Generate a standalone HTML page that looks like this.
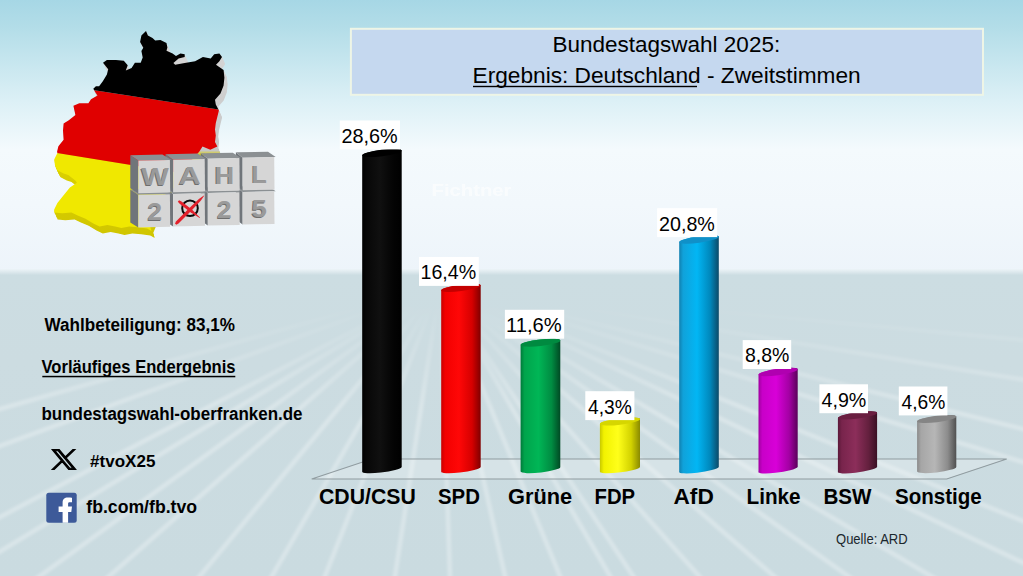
<!DOCTYPE html>
<html><head><meta charset="utf-8">
<style>
html,body{margin:0;padding:0;width:1023px;height:576px;overflow:hidden;background:#dfe9ee;}
svg{display:block;position:absolute;left:0;top:0;}
text{font-family:"Liberation Sans",sans-serif;}
</style></head>
<body>
<svg width="1023" height="576" viewBox="0 0 1023 576">
<defs>
  <linearGradient id="sky" x1="0" y1="0" x2="0" y2="272" gradientUnits="userSpaceOnUse">
    <stop offset="0" stop-color="#a6d7e5"/>
    <stop offset="0.1" stop-color="#b3dde8"/>
    <stop offset="0.37" stop-color="#dcf0f6"/>
    <stop offset="0.55" stop-color="#f4fafd"/>
    <stop offset="0.75" stop-color="#f2f8fc"/>
    <stop offset="1" stop-color="#edf4fa"/>
  </linearGradient>
  <linearGradient id="floor" x1="0" y1="269" x2="0" y2="576" gradientUnits="userSpaceOnUse">
    <stop offset="0" stop-color="#edf4f8"/>
    <stop offset="0.02" stop-color="#ccdde2"/>
    <stop offset="0.3" stop-color="#ccdce1"/>
    <stop offset="1" stop-color="#cadbe0"/>
  </linearGradient>
  <linearGradient id="streakfade" x1="0" y1="272" x2="0" y2="576" gradientUnits="userSpaceOnUse">
    <stop offset="0" stop-color="#000"/>
    <stop offset="0.1" stop-color="#000"/>
    <stop offset="0.45" stop-color="#fff"/>
    <stop offset="1" stop-color="#fff"/>
  </linearGradient>
  <filter id="sblur" x="-10%" y="-10%" width="120%" height="120%"><feGaussianBlur stdDeviation="1.7"/></filter>
  <mask id="streakmask"><rect x="0" y="272" width="1023" height="304" fill="url(#streakfade)"/></mask>
  <clipPath id="floorclip"><rect x="0" y="272" width="1023" height="304"/></clipPath>
<linearGradient id="bg0" x1="362.2" y1="0" x2="401.7" y2="0" gradientUnits="userSpaceOnUse"><stop offset="0" stop-color="#000000"/><stop offset="0.1" stop-color="#070707"/><stop offset="0.45" stop-color="#101010"/><stop offset="0.78" stop-color="#040404"/><stop offset="1" stop-color="#000000"/></linearGradient>
<linearGradient id="bg1" x1="441.2" y1="0" x2="480.7" y2="0" gradientUnits="userSpaceOnUse"><stop offset="0" stop-color="#c80000"/><stop offset="0.1" stop-color="#f20000"/><stop offset="0.45" stop-color="#ff0707"/><stop offset="0.78" stop-color="#d60000"/><stop offset="1" stop-color="#800000"/></linearGradient>
<linearGradient id="bg2" x1="520.6" y1="0" x2="560.3" y2="0" gradientUnits="userSpaceOnUse"><stop offset="0" stop-color="#007a3a"/><stop offset="0.1" stop-color="#00a44c"/><stop offset="0.45" stop-color="#00b656"/><stop offset="0.78" stop-color="#008c42"/><stop offset="1" stop-color="#004a24"/></linearGradient>
<linearGradient id="bg3" x1="599.9" y1="0" x2="640.0" y2="0" gradientUnits="userSpaceOnUse"><stop offset="0" stop-color="#c8c800"/><stop offset="0.1" stop-color="#f2f200"/><stop offset="0.45" stop-color="#ffff1a"/><stop offset="0.78" stop-color="#d2d200"/><stop offset="1" stop-color="#8a8a00"/></linearGradient>
<linearGradient id="bg4" x1="679.2" y1="0" x2="718.8" y2="0" gradientUnits="userSpaceOnUse"><stop offset="0" stop-color="#1080b0"/><stop offset="0.1" stop-color="#10a2da"/><stop offset="0.45" stop-color="#02b6f4"/><stop offset="0.78" stop-color="#0088bc"/><stop offset="1" stop-color="#0c4a68"/></linearGradient>
<linearGradient id="bg5" x1="758.5" y1="0" x2="797.7" y2="0" gradientUnits="userSpaceOnUse"><stop offset="0" stop-color="#a000a0"/><stop offset="0.1" stop-color="#c800c8"/><stop offset="0.45" stop-color="#d800d8"/><stop offset="0.78" stop-color="#a400a4"/><stop offset="1" stop-color="#5a005a"/></linearGradient>
<linearGradient id="bg6" x1="837.9" y1="0" x2="877.1" y2="0" gradientUnits="userSpaceOnUse"><stop offset="0" stop-color="#5a1838"/><stop offset="0.1" stop-color="#78244c"/><stop offset="0.45" stop-color="#8c2e5a"/><stop offset="0.78" stop-color="#64203e"/><stop offset="1" stop-color="#3a1024"/></linearGradient>
<linearGradient id="bg7" x1="917.1" y1="0" x2="956.3" y2="0" gradientUnits="userSpaceOnUse"><stop offset="0" stop-color="#8a8a8a"/><stop offset="0.1" stop-color="#a6a6a6"/><stop offset="0.45" stop-color="#b6b6b6"/><stop offset="0.78" stop-color="#8c8c8c"/><stop offset="1" stop-color="#505050"/></linearGradient>

</defs>
<rect x="0" y="0" width="1023" height="272" fill="url(#sky)"/>
<rect x="0" y="269" width="1023" height="307" fill="url(#floor)"/>
<g mask="url(#streakmask)">
<g stroke="#ffffff" stroke-opacity="0.3" stroke-width="4.5" filter="url(#sblur)"><line x1="440" y1="285" x2="-748.7" y2="620"/>
<line x1="440" y1="285" x2="-475.5" y2="620"/>
<line x1="440" y1="285" x2="-195.3" y2="620"/>
<line x1="440" y1="285" x2="-113.3" y2="620"/>
<line x1="440" y1="285" x2="-20.5" y2="620"/>
<line x1="440" y1="285" x2="59.5" y2="620"/>
<line x1="440" y1="285" x2="163.7" y2="620"/>
<line x1="440" y1="285" x2="246.6" y2="620"/>
<line x1="440" y1="285" x2="307.6" y2="620"/>
<line x1="440" y1="285" x2="388.2" y2="620"/>
<line x1="440" y1="285" x2="451.5" y2="620"/>
<line x1="440" y1="285" x2="514.8" y2="620"/>
<line x1="440" y1="285" x2="578.1" y2="620"/>
<line x1="440" y1="285" x2="635.7" y2="620"/>
<line x1="440" y1="285" x2="662.2" y2="620"/>
<line x1="440" y1="285" x2="738.2" y2="620"/>
<line x1="440" y1="285" x2="824.2" y2="620"/>
<line x1="440" y1="285" x2="909.7" y2="620"/>
<line x1="440" y1="285" x2="1005.0" y2="620"/>
<line x1="440" y1="285" x2="1143.3" y2="620"/>
<line x1="440" y1="285" x2="1267.6" y2="620"/>
<line x1="440" y1="285" x2="1543.4" y2="620"/>
<line x1="440" y1="285" x2="1796.3" y2="620"/>
<line x1="440" y1="285" x2="2506.7" y2="620"/>
<line x1="440" y1="285" x2="3991.0" y2="620"/>
</g>
</g>
<clipPath id="gerclip"><polygon points="146.0,30.9 147.9,35.4 152.5,38.0 155.2,40.4 160.4,40.0 166.5,43.0 167.4,47.4 166.5,50.8 172.6,53.4 176.0,56.0 180.4,53.4 184.7,54.3 184.7,56.9 178.6,58.6 173.4,63.0 175.2,64.7 184.7,63.0 195.1,61.2 202.9,56.9 210.7,58.6 214.2,54.3 219.4,53.4 222.0,56.9 219.4,61.2 216.0,64.7 218.5,66.4 223.6,70.0 224.4,77.8 223.6,85.6 220.5,93.4 215.0,99.7 215.8,104.4 218.9,110.6 217.3,116.9 215.8,123.1 215.0,129.4 215.8,135.6 215.0,141.9 217.3,146.6 210.3,149.7 202.5,146.6 199.4,151.5 165.0,190.0 150.0,226.0 151.5,231.0 147.1,228.6 138.0,227.2 129.2,226.6 121.4,228.1 115.2,226.6 107.4,225.0 99.6,226.6 93.3,223.4 85.5,218.8 77.7,215.6 71.4,212.5 62.1,213.3 54.2,212.5 54.2,209.4 57.4,203.1 63.6,195.3 69.9,187.5 76.9,182.8 75.3,180.5 68.3,175.0 63.6,173.4 57.4,170.3 55.0,165.6 54.2,159.4 57.4,153.1 57.1,151.4 58.4,146.2 63.6,139.7 63.0,130.6 63.6,123.4 68.8,120.2 75.4,115.0 73.4,105.8 79.3,103.2 88.4,103.2 91.0,99.3 97.5,95.4 95.6,92.8 93.3,88.8 95.9,86.2 99.1,86.2 103.0,81.0 106.9,74.4 108.2,69.2 103.0,62.7 106.9,60.1 116.0,60.1 123.8,60.8 127.7,65.3 125.8,70.5 131.6,67.9 134.9,62.7 140.7,62.7 142.7,57.5 141.4,51.0 143.3,47.8 140.1,41.9 141.4,35.4"/></clipPath>
<linearGradient id="extr" x1="0" y1="20" x2="0" y2="245" gradientUnits="userSpaceOnUse"><stop offset="0" stop-color="#dadada"/><stop offset="0.58" stop-color="#c6c6c6"/><stop offset="0.6" stop-color="#dcd200"/><stop offset="1" stop-color="#cfc400"/></linearGradient>
<g fill="url(#extr)">
<polygon points="146.4,31.8 148.3,36.3 152.9,38.9 155.6,41.3 160.8,40.9 166.9,43.9 167.8,48.3 166.9,51.7 173.0,54.3 176.4,56.9 180.8,54.3 185.1,55.2 185.1,57.8 179.0,59.5 173.8,63.9 175.6,65.6 185.1,63.9 195.5,62.1 203.3,57.8 211.1,59.5 214.6,55.2 219.8,54.3 222.4,57.8 219.8,62.1 216.4,65.6 218.9,67.3 224.0,70.9 224.8,78.7 224.0,86.5 220.9,94.3 215.4,100.6 216.2,105.3 219.3,111.5 217.7,117.8 216.2,124.0 215.4,130.3 216.2,136.5 215.4,142.8 217.7,147.5 210.7,150.6 202.9,147.5 199.8,152.4 165.4,190.9 150.4,226.9 151.9,231.9 147.5,229.5 138.4,228.1 129.7,227.5 121.8,229.0 115.6,227.5 107.8,225.9 100.0,227.5 93.7,224.3 85.9,219.6 78.1,216.5 71.8,213.4 62.5,214.2 54.6,213.4 54.6,210.3 57.8,204.0 64.0,196.2 70.3,188.4 77.3,183.7 75.7,181.4 68.7,175.9 64.0,174.3 57.8,171.2 55.4,166.5 54.6,160.3 57.8,154.0 57.5,152.3 58.8,147.1 64.0,140.6 63.4,131.5 64.0,124.3 69.2,121.1 75.8,115.9 73.8,106.7 79.7,104.1 88.8,104.1 91.4,100.2 97.9,96.3 96.0,93.7 93.7,89.6 96.3,87.1 99.5,87.1 103.4,81.9 107.3,75.3 108.6,70.1 103.4,63.6 107.3,61.0 116.4,61.0 124.2,61.7 128.1,66.2 126.2,71.4 132.0,68.8 135.3,63.6 141.1,63.6 143.1,58.4 141.8,51.9 143.7,48.7 140.5,42.8 141.8,36.3"/>
<polygon points="146.8,32.6 148.7,37.1 153.3,39.8 156.0,42.1 161.2,41.8 167.3,44.8 168.2,49.1 167.3,52.5 173.4,55.1 176.8,57.8 181.2,55.1 185.5,56.0 185.5,58.6 179.4,60.4 174.2,64.8 176.0,66.5 185.5,64.8 195.9,63.0 203.7,58.6 211.5,60.4 215.0,56.0 220.2,55.1 222.8,58.6 220.2,63.0 216.8,66.5 219.3,68.2 224.4,71.8 225.2,79.5 224.4,87.3 221.3,95.2 215.8,101.5 216.6,106.2 219.7,112.3 218.1,118.7 216.6,124.8 215.8,131.2 216.6,137.3 215.8,143.7 218.1,148.3 211.1,151.4 203.3,148.3 200.2,153.2 165.8,191.8 150.8,227.8 152.3,232.8 147.9,230.3 138.8,228.9 130.1,228.3 122.2,229.8 116.0,228.3 108.2,226.8 100.4,228.3 94.1,225.2 86.3,220.5 78.5,217.3 72.2,214.2 62.9,215.1 55.0,214.2 55.0,211.2 58.2,204.8 64.4,197.1 70.7,189.2 77.7,184.6 76.1,182.2 69.1,176.8 64.4,175.2 58.2,172.1 55.8,167.3 55.0,161.2 58.2,154.8 57.9,153.2 59.2,147.9 64.4,141.4 63.8,132.3 64.4,125.2 69.6,122.0 76.2,116.8 74.2,107.5 80.1,105.0 89.2,105.0 91.8,101.0 98.3,97.2 96.4,94.5 94.1,90.5 96.7,88.0 99.9,88.0 103.8,82.8 107.7,76.2 109.0,71.0 103.8,64.5 107.7,61.9 116.8,61.9 124.6,62.5 128.5,67.0 126.6,72.2 132.4,69.7 135.7,64.5 141.5,64.5 143.5,59.2 142.2,52.8 144.1,49.5 140.9,43.6 142.2,37.1"/>
<polygon points="147.2,33.5 149.1,38.0 153.7,40.6 156.4,43.0 161.6,42.6 167.7,45.6 168.6,50.0 167.7,53.4 173.8,56.0 177.2,58.6 181.6,56.0 185.9,56.9 185.9,59.5 179.8,61.2 174.6,65.6 176.4,67.3 185.9,65.6 196.3,63.8 204.1,59.5 211.9,61.2 215.4,56.9 220.6,56.0 223.2,59.5 220.6,63.8 217.2,67.3 219.7,69.0 224.8,72.6 225.6,80.4 224.8,88.2 221.7,96.0 216.2,102.3 217.0,107.0 220.1,113.2 218.5,119.5 217.0,125.7 216.2,132.0 217.0,138.2 216.2,144.5 218.5,149.2 211.5,152.3 203.7,149.2 200.6,154.1 166.2,192.6 151.2,228.6 152.7,233.6 148.3,231.2 139.2,229.8 130.4,229.2 122.6,230.7 116.4,229.2 108.6,227.6 100.8,229.2 94.5,226.0 86.7,221.4 78.9,218.2 72.6,215.1 63.3,215.9 55.5,215.1 55.5,212.0 58.6,205.7 64.8,197.9 71.1,190.1 78.1,185.4 76.5,183.1 69.5,177.6 64.8,176.0 58.6,172.9 56.2,168.2 55.5,162.0 58.6,155.7 58.3,154.0 59.6,148.8 64.8,142.3 64.2,133.2 64.8,126.0 70.0,122.8 76.6,117.6 74.6,108.4 80.5,105.8 89.6,105.8 92.2,101.9 98.7,98.0 96.8,95.4 94.5,91.4 97.1,88.8 100.3,88.8 104.2,83.6 108.1,77.0 109.4,71.8 104.2,65.3 108.1,62.7 117.2,62.7 125.0,63.4 128.9,67.9 127.0,73.1 132.8,70.5 136.1,65.3 141.9,65.3 143.9,60.1 142.6,53.6 144.5,50.4 141.3,44.5 142.6,38.0"/>
<polygon points="147.6,34.4 149.5,38.9 154.1,41.5 156.8,43.9 162.0,43.5 168.1,46.5 169.0,50.9 168.1,54.3 174.2,56.9 177.6,59.5 182.0,56.9 186.3,57.8 186.3,60.4 180.2,62.1 175.0,66.5 176.8,68.2 186.3,66.5 196.7,64.7 204.5,60.4 212.3,62.1 215.8,57.8 221.0,56.9 223.6,60.4 221.0,64.7 217.6,68.2 220.1,69.9 225.2,73.5 226.0,81.3 225.2,89.1 222.1,96.9 216.6,103.2 217.4,107.9 220.5,114.1 218.9,120.4 217.4,126.6 216.6,132.9 217.4,139.1 216.6,145.4 218.9,150.1 211.9,153.2 204.1,150.1 201.0,155.0 166.6,193.5 151.6,229.5 153.1,234.5 148.7,232.1 139.6,230.7 130.8,230.1 123.0,231.6 116.8,230.1 109.0,228.5 101.2,230.1 94.9,226.9 87.1,222.2 79.3,219.1 73.0,216.0 63.7,216.8 55.9,216.0 55.9,212.9 59.0,206.6 65.2,198.8 71.5,191.0 78.5,186.3 76.9,184.0 69.9,178.5 65.2,176.9 59.0,173.8 56.6,169.1 55.9,162.9 59.0,156.6 58.7,154.9 60.0,149.7 65.2,143.2 64.6,134.1 65.2,126.9 70.4,123.7 77.0,118.5 75.0,109.3 80.9,106.7 90.0,106.7 92.6,102.8 99.1,98.9 97.2,96.3 94.9,92.2 97.5,89.7 100.7,89.7 104.6,84.5 108.5,77.9 109.8,72.7 104.6,66.2 108.5,63.6 117.6,63.6 125.4,64.3 129.3,68.8 127.4,74.0 133.2,71.4 136.5,66.2 142.3,66.2 144.3,61.0 143.0,54.5 144.9,51.3 141.7,45.4 143.0,38.9"/>
<polygon points="148.0,35.3 149.9,39.8 154.5,42.4 157.2,44.8 162.4,44.4 168.5,47.4 169.4,51.8 168.5,55.2 174.6,57.8 178.0,60.4 182.4,57.8 186.7,58.7 186.7,61.3 180.6,63.0 175.4,67.4 177.2,69.1 186.7,67.4 197.1,65.6 204.9,61.3 212.7,63.0 216.2,58.7 221.4,57.8 224.0,61.3 221.4,65.6 218.0,69.1 220.5,70.8 225.6,74.4 226.4,82.2 225.6,90.0 222.5,97.8 217.0,104.1 217.8,108.8 220.9,115.0 219.3,121.3 217.8,127.5 217.0,133.8 217.8,140.0 217.0,146.3 219.3,151.0 212.3,154.1 204.5,151.0 201.4,155.9 167.0,194.4 152.0,230.4 153.5,235.4 149.1,233.0 140.0,231.6 131.2,231.0 123.4,232.5 117.2,231.0 109.4,229.4 101.6,231.0 95.3,227.8 87.5,223.1 79.7,220.0 73.4,216.9 64.1,217.7 56.2,216.9 56.2,213.8 59.4,207.5 65.6,199.7 71.9,191.9 78.9,187.2 77.3,184.9 70.3,179.4 65.6,177.8 59.4,174.7 57.0,170.0 56.2,163.8 59.4,157.5 59.1,155.8 60.4,150.6 65.6,144.1 65.0,135.0 65.6,127.8 70.8,124.6 77.4,119.4 75.4,110.2 81.3,107.6 90.4,107.6 93.0,103.7 99.5,99.8 97.6,97.2 95.3,93.1 97.9,90.6 101.1,90.6 105.0,85.4 108.9,78.8 110.2,73.6 105.0,67.1 108.9,64.5 118.0,64.5 125.8,65.2 129.7,69.7 127.8,74.9 133.6,72.3 136.9,67.1 142.7,67.1 144.7,61.9 143.4,55.4 145.3,52.2 142.1,46.3 143.4,39.8"/>
<polygon points="148.4,36.1 150.3,40.6 154.9,43.2 157.6,45.6 162.8,45.2 168.9,48.2 169.8,52.6 168.9,56.0 175.0,58.6 178.4,61.2 182.8,58.6 187.1,59.5 187.1,62.1 181.0,63.9 175.8,68.2 177.6,70.0 187.1,68.2 197.5,66.5 205.3,62.1 213.1,63.9 216.6,59.5 221.8,58.6 224.4,62.1 221.8,66.5 218.4,70.0 220.9,71.7 226.0,75.2 226.8,83.0 226.0,90.8 222.9,98.7 217.4,105.0 218.2,109.7 221.3,115.8 219.7,122.2 218.2,128.3 217.4,134.7 218.2,140.8 217.4,147.2 219.7,151.8 212.7,154.9 204.9,151.8 201.8,156.8 167.4,195.2 152.4,231.2 153.9,236.2 149.5,233.8 140.4,232.4 131.7,231.8 123.8,233.3 117.6,231.8 109.8,230.2 102.0,231.8 95.7,228.7 87.9,224.0 80.1,220.8 73.8,217.8 64.5,218.6 56.6,217.8 56.6,214.7 59.8,208.3 66.0,200.6 72.3,192.8 79.3,188.1 77.7,185.8 70.7,180.2 66.0,178.7 59.8,175.6 57.4,170.8 56.6,164.7 59.8,158.3 59.5,156.7 60.8,151.4 66.0,144.9 65.4,135.8 66.0,128.7 71.2,125.5 77.8,120.2 75.8,111.0 81.7,108.5 90.8,108.5 93.4,104.5 99.9,100.7 98.0,98.0 95.7,94.0 98.3,91.5 101.5,91.5 105.4,86.2 109.3,79.7 110.6,74.5 105.4,68.0 109.3,65.3 118.4,65.3 126.2,66.0 130.1,70.5 128.2,75.8 134.0,73.2 137.3,68.0 143.1,68.0 145.1,62.8 143.8,56.2 145.7,53.0 142.5,47.1 143.8,40.6"/>
<polygon points="148.8,37.0 150.7,41.5 155.3,44.1 158.0,46.5 163.2,46.1 169.3,49.1 170.2,53.5 169.3,56.9 175.4,59.5 178.8,62.1 183.2,59.5 187.5,60.4 187.5,63.0 181.4,64.7 176.2,69.1 178.0,70.8 187.5,69.1 197.9,67.3 205.7,63.0 213.5,64.7 217.0,60.4 222.2,59.5 224.8,63.0 222.2,67.3 218.8,70.8 221.3,72.5 226.4,76.1 227.2,83.9 226.4,91.7 223.3,99.5 217.8,105.8 218.6,110.5 221.7,116.7 220.1,123.0 218.6,129.2 217.8,135.5 218.6,141.7 217.8,148.0 220.1,152.7 213.1,155.8 205.3,152.7 202.2,157.6 167.8,196.1 152.8,232.1 154.3,237.1 149.9,234.7 140.8,233.3 132.1,232.7 124.2,234.2 118.0,232.7 110.2,231.1 102.4,232.7 96.1,229.5 88.3,224.9 80.5,221.7 74.2,218.6 64.9,219.4 57.0,218.6 57.0,215.5 60.2,209.2 66.4,201.4 72.7,193.6 79.7,188.9 78.1,186.6 71.1,181.1 66.4,179.5 60.2,176.4 57.8,171.7 57.0,165.5 60.2,159.2 59.9,157.5 61.2,152.3 66.4,145.8 65.8,136.7 66.4,129.5 71.6,126.3 78.2,121.1 76.2,111.9 82.1,109.3 91.2,109.3 93.8,105.4 100.3,101.5 98.4,98.9 96.1,94.9 98.7,92.3 101.9,92.3 105.8,87.1 109.7,80.5 111.0,75.3 105.8,68.8 109.7,66.2 118.8,66.2 126.6,66.9 130.5,71.4 128.6,76.6 134.4,74.0 137.7,68.8 143.5,68.8 145.5,63.6 144.2,57.1 146.1,53.9 142.9,48.0 144.2,41.5"/>
<polygon points="149.2,37.9 151.1,42.4 155.7,45.0 158.4,47.4 163.6,47.0 169.7,50.0 170.6,54.4 169.7,57.8 175.8,60.4 179.2,63.0 183.6,60.4 187.9,61.3 187.9,63.9 181.8,65.6 176.6,70.0 178.4,71.7 187.9,70.0 198.3,68.2 206.1,63.9 213.9,65.6 217.4,61.3 222.6,60.4 225.2,63.9 222.6,68.2 219.2,71.7 221.7,73.4 226.8,77.0 227.6,84.8 226.8,92.6 223.7,100.4 218.2,106.7 219.0,111.4 222.1,117.6 220.5,123.9 219.0,130.1 218.2,136.4 219.0,142.6 218.2,148.9 220.5,153.6 213.5,156.7 205.7,153.6 202.6,158.5 168.2,197.0 153.2,233.0 154.7,238.0 150.3,235.6 141.2,234.2 132.4,233.6 124.6,235.1 118.4,233.6 110.6,232.0 102.8,233.6 96.5,230.4 88.7,225.8 80.9,222.6 74.6,219.5 65.3,220.3 57.5,219.5 57.5,216.4 60.6,210.1 66.8,202.3 73.1,194.5 80.1,189.8 78.5,187.5 71.5,182.0 66.8,180.4 60.6,177.3 58.2,172.6 57.5,166.4 60.6,160.1 60.3,158.4 61.6,153.2 66.8,146.7 66.2,137.6 66.8,130.4 72.0,127.2 78.6,122.0 76.6,112.8 82.5,110.2 91.6,110.2 94.2,106.3 100.7,102.4 98.8,99.8 96.5,95.8 99.1,93.2 102.3,93.2 106.2,88.0 110.1,81.4 111.4,76.2 106.2,69.7 110.1,67.1 119.2,67.1 127.0,67.8 130.9,72.3 129.0,77.5 134.8,74.9 138.1,69.7 143.9,69.7 145.9,64.5 144.6,58.0 146.5,54.8 143.3,48.9 144.6,42.4"/>
</g>
<g clip-path="url(#gerclip)">
<polygon points="40,150.28 240,182.68 240,250 40,250" fill="#f0e800"/>
<polygon points="40,81.95 240,112.75 240,182.68 40,150.28" fill="#e00000"/>
<polygon points="40,20 240,20 240,112.75 40,81.95" fill="#000000"/>
</g>

<polygon points="235.9,186.5 242.6,191.9 242.6,224.5 235.9,219.6" fill="#70757a"/>
<polygon points="235.9,186.5 268.0,185.9 275.7,191.3 242.6,191.9" fill="#8b9093"/>
<polygon points="242.6,191.9 274.2,191.3 274.5,223.9 242.6,224.5" fill="#d6d6d6"/>
<text x="258.3" y="218.2" font-size="24.0" font-weight="bold" text-anchor="middle" fill="#6e6e6e" textLength="15.4" lengthAdjust="spacingAndGlyphs">5</text>
<text x="259.2" y="217.3" font-size="24.0" font-weight="bold" text-anchor="middle" fill="#9a9a9a" textLength="15.4" lengthAdjust="spacingAndGlyphs">5</text>
<polygon points="200.7,187.5 207.8,192.9 207.8,225.5 200.7,220.6" fill="#70757a"/>
<polygon points="200.7,187.5 232.8,186.9 240.9,192.3 207.8,192.9" fill="#8b9093"/>
<polygon points="207.8,192.9 239.4,192.3 239.7,224.9 207.8,225.5" fill="#d6d6d6"/>
<text x="223.5" y="219.2" font-size="24.0" font-weight="bold" text-anchor="middle" fill="#6e6e6e" textLength="14.6" lengthAdjust="spacingAndGlyphs">2</text>
<text x="224.4" y="218.3" font-size="24.0" font-weight="bold" text-anchor="middle" fill="#9a9a9a" textLength="14.6" lengthAdjust="spacingAndGlyphs">2</text>
<polygon points="165.5,188.5 173.1,193.9 173.1,226.5 165.5,221.6" fill="#70757a"/>
<polygon points="165.5,188.5 197.6,187.8 206.2,193.2 173.1,193.9" fill="#8b9093"/>
<polygon points="173.1,193.9 204.7,193.2 205.0,225.8 173.1,226.5" fill="#d6d6d6"/>
<circle cx="190.0" cy="208.2" r="7.8" fill="none" stroke="#0a0a0a" stroke-width="2.0"/>
<path d="M176.29,224.78 L178.49,223.56 L191.06,211.05 L200.71,200.76 L204.16,195.66 L203.94,195.44 L198.87,198.92 L188.64,208.65 L176.22,221.31 L175.01,223.52 Z" fill="#e3202b"/>
<path d="M177.83,201.74 L179.66,203.81 L190.36,212.21 L199.73,217.91 L199.97,217.59 L192.22,209.85 L181.52,201.45 L179.07,200.16 Z" fill="#e3202b"/>
<polygon points="130.3,189.4 138.3,194.8 138.3,227.4 130.3,222.5" fill="#70757a"/>
<polygon points="130.3,189.4 162.4,188.8 171.4,194.2 138.3,194.8" fill="#8b9093"/>
<polygon points="138.3,194.8 169.9,194.2 170.2,226.8 138.3,227.4" fill="#d6d6d6"/>
<text x="154.0" y="221.1" font-size="24.0" font-weight="bold" text-anchor="middle" fill="#6e6e6e" textLength="14.6" lengthAdjust="spacingAndGlyphs">2</text>
<text x="154.9" y="220.2" font-size="24.0" font-weight="bold" text-anchor="middle" fill="#9a9a9a" textLength="14.6" lengthAdjust="spacingAndGlyphs">2</text>
<polygon points="235.9,152.3 242.6,157.8 242.6,190.3 235.9,185.4" fill="#70757a"/>
<polygon points="235.9,152.3 268.0,151.7 275.7,157.1 242.6,157.8" fill="#8b9093"/>
<polygon points="242.6,157.8 274.2,157.1 274.5,189.7 242.6,190.3" fill="#d6d6d6"/>
<text x="258.3" y="183.4" font-size="24.5" font-weight="bold" text-anchor="middle" fill="#6e6e6e" textLength="15.3" lengthAdjust="spacingAndGlyphs">L</text>
<text x="259.2" y="182.5" font-size="24.5" font-weight="bold" text-anchor="middle" fill="#9a9a9a" textLength="15.3" lengthAdjust="spacingAndGlyphs">L</text>
<polygon points="200.7,153.3 207.8,158.7 207.8,191.3 200.7,186.4" fill="#70757a"/>
<polygon points="200.7,153.3 232.8,152.7 240.9,158.1 207.8,158.7" fill="#8b9093"/>
<polygon points="207.8,158.7 239.4,158.1 239.7,190.7 207.8,191.3" fill="#d6d6d6"/>
<text x="223.5" y="184.4" font-size="24.5" font-weight="bold" text-anchor="middle" fill="#6e6e6e" textLength="19.4" lengthAdjust="spacingAndGlyphs">H</text>
<text x="224.4" y="183.5" font-size="24.5" font-weight="bold" text-anchor="middle" fill="#9a9a9a" textLength="19.4" lengthAdjust="spacingAndGlyphs">H</text>
<polygon points="165.5,154.2 173.1,159.7 173.1,192.2 165.5,187.3" fill="#70757a"/>
<polygon points="165.5,154.2 197.6,153.6 206.2,159.0 173.1,159.7" fill="#8b9093"/>
<polygon points="173.1,159.7 204.7,159.0 205.0,191.6 173.1,192.2" fill="#d6d6d6"/>
<text x="188.8" y="185.3" font-size="24.5" font-weight="bold" text-anchor="middle" fill="#6e6e6e" textLength="22" lengthAdjust="spacingAndGlyphs">A</text>
<text x="189.7" y="184.4" font-size="24.5" font-weight="bold" text-anchor="middle" fill="#9a9a9a" textLength="22" lengthAdjust="spacingAndGlyphs">A</text>
<polygon points="130.3,155.2 138.3,160.6 138.3,193.2 130.3,188.3" fill="#70757a"/>
<polygon points="130.3,155.2 162.4,154.6 171.4,160.0 138.3,160.6" fill="#8b9093"/>
<polygon points="138.3,160.6 169.9,160.0 170.2,192.6 138.3,193.2" fill="#d6d6d6"/>
<text x="154.0" y="186.3" font-size="24.5" font-weight="bold" text-anchor="middle" fill="#6e6e6e" textLength="27.5" lengthAdjust="spacingAndGlyphs">W</text>
<text x="154.9" y="185.4" font-size="24.5" font-weight="bold" text-anchor="middle" fill="#9a9a9a" textLength="27.5" lengthAdjust="spacingAndGlyphs">W</text>

<g opacity="0.6"><text x="431.50" y="195.8" font-size="16.4" font-weight="bold" fill="#ffffff" textLength="80.03" lengthAdjust="spacingAndGlyphs">Fichtner</text>
</g>
<path d="M311.7,479 L946.7,479 L1006.7,459 L371.7,459 Z" fill="#ffffff" fill-opacity="0.22"/>
<path d="M311.7,479 L946.7,479 L1006.7,459 L371.7,459 Z" fill="none" stroke="#909ca0" stroke-width="1.2"/>

<path d="M362.2,155.6 A19.92,3.2 -7.50 0 1 401.7,150.4 L401.7,466.9 A19.92,3.2 -7.50 0 1 362.2,471.6 Z" fill="url(#bg0)"/>
<ellipse cx="381.9" cy="153.0" rx="19.92" ry="3.2" transform="rotate(-7.50 381.9 153.0)" fill="#000000"/>
<path d="M441.2,290.5 A19.92,3.2 -7.50 0 1 480.7,285.3 L480.7,466.9 A19.92,3.2 -7.50 0 1 441.2,471.6 Z" fill="url(#bg1)"/>
<ellipse cx="460.9" cy="287.9" rx="19.92" ry="3.2" transform="rotate(-7.50 460.9 287.9)" fill="#c40000"/>
<path d="M520.6,345.0 A19.98,3.2 -6.61 0 1 560.3,340.4 L560.3,466.9 A19.98,3.2 -6.61 0 1 520.6,471.6 Z" fill="url(#bg2)"/>
<ellipse cx="540.5" cy="342.7" rx="19.98" ry="3.2" transform="rotate(-6.61 540.5 342.7)" fill="#008a40"/>
<path d="M599.9,424.1 A20.22,3.2 -7.39 0 1 640.0,418.9 L640.0,466.9 A20.22,3.2 -7.39 0 1 599.9,471.6 Z" fill="url(#bg3)"/>
<ellipse cx="620.0" cy="421.5" rx="20.22" ry="3.2" transform="rotate(-7.39 620.0 421.5)" fill="#d6d600"/>
<path d="M679.2,242.2 A19.98,3.2 -7.77 0 1 718.8,236.8 L718.8,466.9 A19.98,3.2 -7.77 0 1 679.2,471.6 Z" fill="url(#bg4)"/>
<ellipse cx="699.0" cy="239.5" rx="19.98" ry="3.2" transform="rotate(-7.77 699.0 239.5)" fill="#1090c8"/>
<path d="M758.5,374.8 A19.81,3.2 -8.27 0 1 797.7,369.1 L797.7,466.9 A19.81,3.2 -8.27 0 1 758.5,471.6 Z" fill="url(#bg5)"/>
<ellipse cx="778.1" cy="372.0" rx="19.81" ry="3.2" transform="rotate(-8.27 778.1 372.0)" fill="#b000b0"/>
<path d="M837.9,418.2 A19.79,3.2 -7.99 0 1 877.1,412.7 L877.1,466.9 A19.79,3.2 -7.99 0 1 837.9,471.6 Z" fill="url(#bg6)"/>
<ellipse cx="857.5" cy="415.4" rx="19.79" ry="3.2" transform="rotate(-7.99 857.5 415.4)" fill="#6a1e40"/>
<path d="M917.1,421.4 A19.75,3.2 -6.98 0 1 956.3,416.6 L956.3,466.9 A19.75,3.2 -6.98 0 1 917.1,471.6 Z" fill="url(#bg7)"/>
<ellipse cx="936.7" cy="419.0" rx="19.75" ry="3.2" transform="rotate(-6.98 936.7 419.0)" fill="#858585"/>

<rect x="339.8" y="120.5" width="60.2" height="28.9" fill="#ffffff"/>
<text x="341.50" y="142.8" font-size="20.9" font-weight="normal" fill="#000" textLength="56.25" lengthAdjust="spacingAndGlyphs">28,6%</text>
<rect x="419.0" y="257.0" width="59.8" height="28.9" fill="#ffffff"/>
<text x="420.50" y="279.3" font-size="20.9" font-weight="normal" fill="#000" textLength="55.69" lengthAdjust="spacingAndGlyphs">16,4%</text>
<rect x="504.9" y="309.8" width="59.3" height="28.9" fill="#ffffff"/>
<text x="506.00" y="332.1" font-size="20.9" font-weight="normal" fill="#000" textLength="55.72" lengthAdjust="spacingAndGlyphs">11,6%</text>
<rect x="585.3" y="391.2" width="49.1" height="28.9" fill="#ffffff"/>
<text x="588.00" y="413.5" font-size="20.9" font-weight="normal" fill="#000" textLength="43.81" lengthAdjust="spacingAndGlyphs">4,3%</text>
<rect x="657.1" y="208.2" width="60.1" height="28.9" fill="#ffffff"/>
<text x="659.00" y="230.5" font-size="20.9" font-weight="normal" fill="#000" textLength="55.86" lengthAdjust="spacingAndGlyphs">20,8%</text>
<rect x="742.7" y="340.1" width="48.5" height="28.9" fill="#ffffff"/>
<text x="745.00" y="362.4" font-size="20.9" font-weight="normal" fill="#000" textLength="44.48" lengthAdjust="spacingAndGlyphs">8,8%</text>
<rect x="819.4" y="384.3" width="48.6" height="28.9" fill="#ffffff"/>
<text x="821.50" y="406.6" font-size="20.9" font-weight="normal" fill="#000" textLength="44.85" lengthAdjust="spacingAndGlyphs">4,9%</text>
<rect x="898.8" y="386.5" width="48.6" height="28.9" fill="#ffffff"/>
<text x="901.50" y="408.8" font-size="20.9" font-weight="normal" fill="#000" textLength="43.83" lengthAdjust="spacingAndGlyphs">4,6%</text>

<rect x="350.9" y="28.8" width="632.1" height="66" fill="#c5d8ef" stroke="#eef5e6" stroke-width="2"/>
<text x="552.50" y="52.4" font-size="22.2" font-weight="normal" fill="#000" textLength="227.67" lengthAdjust="spacingAndGlyphs">Bundestagswahl 2025:</text>
<text x="472.50" y="82.6" font-size="22.2" font-weight="normal" fill="#000" textLength="388.23" lengthAdjust="spacingAndGlyphs">Ergebnis: Deutschland - Zweitstimmen</text>
<rect x="473" y="85.8" width="224" height="1.4" fill="#000"/>

<text x="44.50" y="330.7" font-size="17.5" font-weight="bold" fill="#000" textLength="190.40" lengthAdjust="spacingAndGlyphs">Wahlbeteiligung: 83,1%</text>
<text x="41.50" y="373.3" font-size="17.5" font-weight="bold" fill="#000" textLength="194.01" lengthAdjust="spacingAndGlyphs">Vorläufiges Endergebnis</text>
<rect x="42.3" y="375.8" width="193" height="1.5" fill="#000"/>
<text x="41.50" y="420.4" font-size="17.5" font-weight="bold" fill="#000" textLength="261.01" lengthAdjust="spacingAndGlyphs">bundestagswahl-oberfranken.de</text>
<text x="90.00" y="466.5" font-size="17.3" font-weight="bold" fill="#000" textLength="65.41" lengthAdjust="spacingAndGlyphs">#tvoX25</text>
<text x="86.25" y="513.0" font-size="17.5" font-weight="bold" fill="#000" textLength="110.81" lengthAdjust="spacingAndGlyphs">fb.com/fb.tvo</text>
<text x="836.00" y="543.7" font-size="13.8" font-weight="normal" fill="#1a262c" textLength="71.63" lengthAdjust="spacingAndGlyphs">Quelle: ARD</text>

<path transform="translate(52.1,449.4) scale(0.01975,0.01646)" fill="#000" stroke="#000" stroke-width="62" d="M714.163 519.284L1160.89 0H1055.03L667.137 450.887L357.328 0H0L468.492 681.821L0 1226.37H105.866L515.491 750.218L842.672 1226.37H1200L714.137 519.284H714.163ZM569.165 687.828L521.697 619.934L144.011 79.6944H306.615L611.412 515.685L658.88 583.579L1055.08 1150.3H892.476L569.165 687.854V687.828Z"/>
<rect x="46.3" y="492.8" width="30.4" height="30" rx="2.5" fill="#3d5a99"/>
<path fill="#fff" d="M62.6,522.8 V511.9 H58.6 V506.5 H62.6 V502.6 C62.6,499.0 64.6,497.4 67.8,497.4 C69.6,497.4 71.2,497.6 72,497.7 V502.2 H69.6 C68.4,502.2 68.1,502.9 68.1,503.9 V506.5 H72 L71.3,511.9 H68.1 V522.8 Z"/>

<text x="319.00" y="503.9" font-size="22.4" font-weight="bold" fill="#000" textLength="96.84" lengthAdjust="spacingAndGlyphs">CDU/CSU</text>
<text x="438.00" y="503.9" font-size="22.4" font-weight="bold" fill="#000" textLength="41.90" lengthAdjust="spacingAndGlyphs">SPD</text>
<text x="508.00" y="503.9" font-size="22.4" font-weight="bold" fill="#000" textLength="64.22" lengthAdjust="spacingAndGlyphs">Grüne</text>
<text x="594.50" y="503.9" font-size="22.4" font-weight="bold" fill="#000" textLength="40.57" lengthAdjust="spacingAndGlyphs">FDP</text>
<text x="673.50" y="503.9" font-size="22.4" font-weight="bold" fill="#000" textLength="40.27" lengthAdjust="spacingAndGlyphs">AfD</text>
<text x="746.50" y="503.9" font-size="22.4" font-weight="bold" fill="#000" textLength="54.08" lengthAdjust="spacingAndGlyphs">Linke</text>
<text x="823.50" y="503.9" font-size="22.4" font-weight="bold" fill="#000" textLength="48.06" lengthAdjust="spacingAndGlyphs">BSW</text>
<text x="895.00" y="503.9" font-size="22.4" font-weight="bold" fill="#000" textLength="86.81" lengthAdjust="spacingAndGlyphs">Sonstige</text>

</svg>
</body></html>
